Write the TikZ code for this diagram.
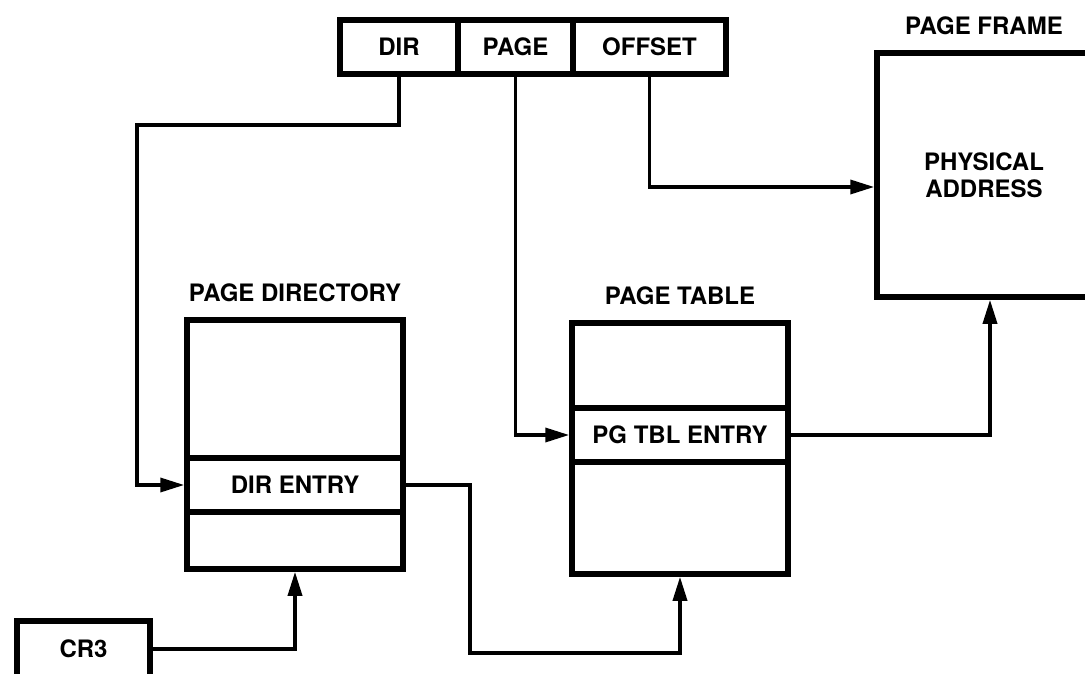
\documentclass[tikz,border=0pt]{standalone}
\usepackage{fontspec}
\setmainfont{TeX Gyre Heros}
\usetikzlibrary{arrows.meta}
\usetikzlibrary{positioning}

\tikzset{
  cell/.style={draw, line width=5.5pt, inner sep=0pt, align=center,
    font=\fontsize{24}{27}\selectfont\bfseries},
  title/.style={inner sep=0pt, font=\fontsize{24}{27}\selectfont\bfseries},
  link/.style={line width=3.5pt, -{Triangle[length=24pt,width=14pt]}}
}

\begin{document}
\begin{tikzpicture}[x=1pt,y=-1pt]
 			\useasboundingbox (0,0) rectangle (1085,674);
 			\clip (0,0) rectangle (1085,674);
 			%% linear address
 			\node[cell, minimum width=118pt, minimum height=54pt] (dir) at (399,47) {DIR};
 			\node[cell, minimum width=115pt, minimum height=54pt] (page) at (515.5,47) {PAGE};
 			\node[cell, minimum width=153pt, minimum height=54pt] (offset) at (649.5,47) {OFFSET};
 			%% page frame
 			\node[cell, minimum width=214pt, minimum height=244pt] (frame) at (984,175)
 				{PHYSICAL\\ADDRESS};
 			\node[title, above=15pt of frame] (frametitle) {PAGE FRAME};
 			%% page directory
 			\node[cell, minimum width=216pt, minimum height=138pt] (pdtop) at (295,389) {};
 			\node[cell, minimum width=216pt, minimum height=54pt] (pdentry) at (295,485) {DIR ENTRY};
 			\node[cell, minimum width=216pt, minimum height=57pt] (pdbot) at (295,540.5) {};
 			\node[title, above=15pt of pdtop] (pdtitle) {PAGE DIRECTORY};
 			%% page table
 			\node[cell, minimum width=216pt, minimum height=85pt] (pttop) at (680,365.5) {};
 			\node[cell, minimum width=216pt, minimum height=54pt] (ptentry) at (680,435) {PG TBL ENTRY};
 			\node[cell, minimum width=216pt, minimum height=112pt] (ptbot) at (680,518) {};
 			\node[title, above=15pt of pttop] (pttitle) {PAGE TABLE};
 			%% control register
 			\node[cell, minimum width=133pt, minimum height=56pt] (cr3) at (83.5,649) {CR3};
 			%% connectors
 			\coordinate (dirbend) at (137,125);
 			\coordinate (ptlow) at (470,653);
 			\draw[link] (dir.south) |- (dirbend) |- (pdentry.west);
 			\draw[link] (page.south) |- (ptentry.west);
 			\draw[link] (offset.south) |- ([yshift=-12pt]frame.west);
 			\draw[link] (pdentry.east) -| (ptlow) -| (ptbot.south);
 			\draw[link] (ptentry.east) -| ([xshift=6pt]frame.south);
 			\draw[link] (cr3.east) -| (pdbot.south);
 		\end{tikzpicture}
\end{document}
